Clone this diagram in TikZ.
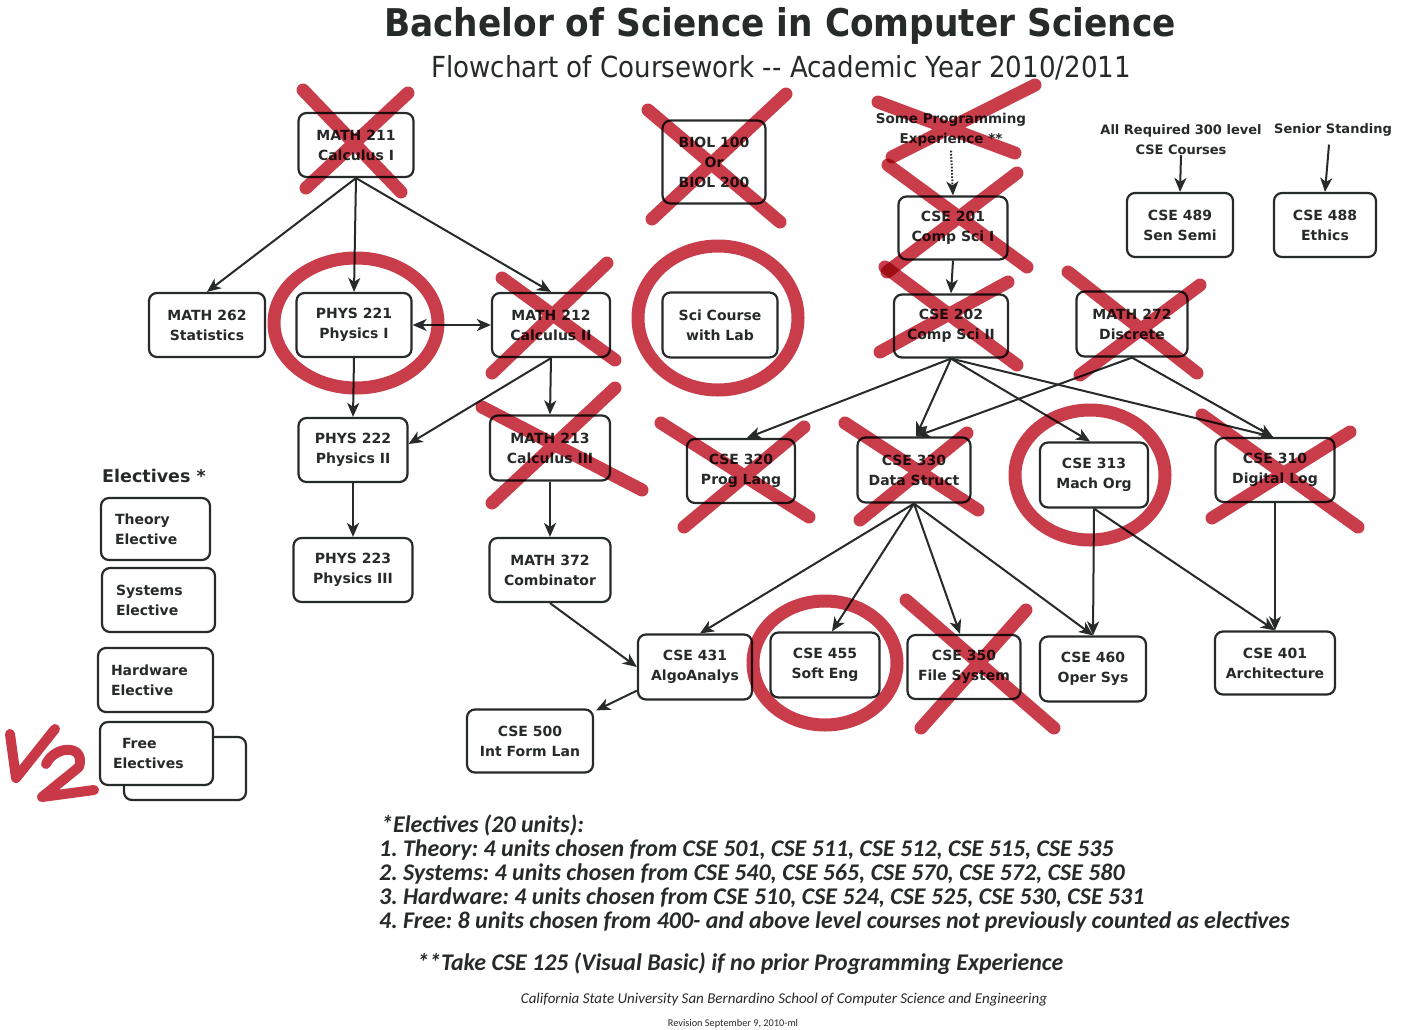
\documentclass[tikz,border=0pt]{standalone}
\usepackage{fontspec}
\setmainfont{DejaVu Sans}
\newfontfamily\titlefont[FakeStretch=0.9]{DejaVu Sans}
\newfontfamily\notefont{Carlito}
\usetikzlibrary{arrows.meta}
\definecolor{ink}{RGB}{38,42,40}
\definecolor{redmark}{RGB}{196,40,56}
\frenchspacing
\tikzset{
  course/.style={draw=ink, line width=2.2pt, rounded corners=8pt, fill=white, align=center,
    font=\bfseries\fontsize{14}{20}\selectfont, text=ink, inner sep=0pt},
  elbox/.style={course, align=left, inner xsep=14pt, inner ysep=0pt},
  tip/.tip={Stealth[length=14pt,width=12pt,inset=4pt]},
  conn/.style={draw=ink, line width=2pt, -tip},
  dotconn/.style={conn, dash pattern=on 1.6pt off 1.6pt},
  marker/.style={draw=redmark, line width=13pt, line cap=round, opacity=0.9, blend mode=multiply},
  ring/.style={draw=redmark, line width=13pt, opacity=0.9, blend mode=multiply},
  handred/.style={draw=redmark, line width=10pt, line cap=round, line join=round, opacity=0.92},
  toplabel/.style={text=ink, font=\bfseries\fontsize{13}{20}\selectfont, align=center, inner sep=0pt},
  note/.style={text=ink, font=\notefont\bfseries\itshape\fontsize{23.9}{28}\selectfont, inner sep=0pt, anchor=base west}
}
\begin{document}
\begin{tikzpicture}[x=1pt,y=-1pt]
\useasboundingbox (0,0) rectangle (1401,1029);
\fill[white] (0,0) rectangle (1401,1029);

% titles
\node[text=ink, font=\titlefont\bfseries\fontsize{38.2}{40}\selectfont, anchor=base, inner sep=0pt] (title) at (780,36) {Bachelor of Science in Computer Science};
\node[text=ink, font=\titlefont\fontsize{29}{30}\selectfont, anchor=base, inner sep=0pt] (subtitle) at (781,77) {Flowchart of Coursework -- Academic Year 2010/2011};

% top labels
\node[toplabel, font=\bfseries\fontsize{13.5}{20}\selectfont] (prog) at (951,130) {Some Programming\\Experience **};
\node[toplabel] (req) at (1181,140) {All Required 300 level\\CSE Courses};
\node[toplabel] (senior) at (1333,130) {Senior Standing};

% course nodes
\node[course, minimum width=115pt, minimum height=64pt] (m211) at (356,145) {MATH 211\\Calculus I};
\node[course, minimum width=103pt, minimum height=83pt] (biol) at (714,162) {BIOL 100\\Or\\BIOL 200};
\node[course, minimum width=116pt, minimum height=64pt] (m262) at (207,325) {MATH 262\\Statistics};
\node[course, minimum width=115pt, minimum height=64pt] (p221) at (354,325) {PHYS 221\\Physics I};
\node[course, minimum width=118pt, minimum height=64pt] (m212) at (551,325) {MATH 212\\Calculus II};
\node[course, minimum width=115pt, minimum height=65pt] (sci) at (720,325) {Sci Course\\with Lab};
\node[course, minimum width=109pt, minimum height=64pt] (p222) at (353,450) {PHYS 222\\Physics II};
\node[course, minimum width=120pt, minimum height=65pt] (m213) at (550,448) {MATH 213\\Calculus III};
\node[course, minimum width=119pt, minimum height=64pt] (p223) at (353,570) {PHYS 223\\Physics III};
\node[course, minimum width=121pt, minimum height=64pt] (m372) at (550,570) {MATH 372\\Combinator};
\node[course, minimum width=109pt, minimum height=63pt] (c201) at (953,228) {CSE 201\\Comp Sci I};
\node[course, minimum width=114pt, minimum height=63pt] (c202) at (951,326) {CSE 202\\Comp Sci II};
\node[course, minimum width=111pt, minimum height=65pt] (m272) at (1132,324) {MATH 272\\Discrete};
\node[course, minimum width=106pt, minimum height=64pt] (c489) at (1180,225) {CSE 489\\Sen Semi};
\node[course, minimum width=102pt, minimum height=64pt] (c488) at (1325,225) {CSE 488\\Ethics};
\node[course, minimum width=108pt, minimum height=64pt] (c320) at (741,471) {CSE 320\\Prog Lang};
\node[course, minimum width=113pt, minimum height=65pt] (c330) at (914,470) {CSE 330\\Data Struct};
\node[course, minimum width=108pt, minimum height=65pt] (c313) at (1094,475) {CSE 313\\Mach Org};
\node[course, minimum width=119pt, minimum height=64pt] (c310) at (1275,470) {CSE 310\\Digital Log};
\node[course, minimum width=114pt, minimum height=65pt] (c431) at (695,667) {CSE 431\\AlgoAnalys};
\node[course, minimum width=109pt, minimum height=65pt] (c455) at (825,665) {CSE 455\\Soft Eng};
\node[course, minimum width=113pt, minimum height=64pt] (c350) at (964,667) {CSE 350\\File System};
\node[course, minimum width=106pt, minimum height=65pt] (c460) at (1093,669) {CSE 460\\Oper Sys};
\node[course, minimum width=120pt, minimum height=63pt] (c401) at (1275,663) {CSE 401\\Architecture};
\node[course, minimum width=126pt, minimum height=63pt] (c500) at (530,741) {CSE 500\\Int Form Lan};

% electives
\node[text=ink, font=\bfseries\fontsize{17.5}{20}\selectfont, anchor=west, inner sep=0pt] (eltitle) at (102,476) {Electives *};
\node[elbox, text width=81pt, minimum height=62pt] (theory) at (155.5,529) {Theory\\Elective};
\node[elbox, text width=85pt, minimum height=64pt] (systems) at (158.5,600) {Systems\\Elective};
\node[elbox, inner xsep=13pt, text width=89pt, minimum height=64pt] (hardware) at (155.5,680) {Hardware\\Elective};
\node[course, minimum width=122pt, minimum height=63pt] (freeshadow) at (185,768.5) {};
\node[elbox, inner xsep=13pt, text width=87pt, minimum height=63pt] (free) at (156.5,753.5) {\hspace{9pt}Free\\Electives};

% connectors
\draw[conn] (m211.south) -- (m262.north);
\draw[conn] (m211.south) -- (p221.north);
\draw[conn] (m211.south) -- (m212.north);
\draw[conn, tip-tip] (p221.east) -- (m212.west);
\draw[conn] (p221.south) -- (p222.north);
\draw[conn] (m212.south) -- ([yshift=6pt]p222.east);
\draw[conn] (m212.south) -- (m213.north);
\draw[conn] (p222.south) -- (p223.north);
\draw[conn] (m213.south) -- (m372.north);
\draw[conn] (m372.south) -- (c431.west);
\draw[conn] ([yshift=10pt]c431.south west) -- ([xshift=2pt,yshift=-2pt]c500.north east);
\draw[dotconn] ([yshift=-4pt]prog.south) -- (c201.north);
\draw[conn] (c201.south) -- (c202.north);
\draw[conn] (c202.south) -- ([xshift=6pt]c320.north);
\draw[conn] (c202.south) -- ([xshift=2pt]c330.north);
\draw[conn] (m272.south) -- ([xshift=2pt]c330.north);
\draw[conn] (c202.south) -- ([xshift=-4pt]c313.north);
\draw[conn] (c202.south) -- ([xshift=-2pt]c310.north);
\draw[conn] (m272.south) -- ([xshift=-2pt]c310.north);
\draw[conn] (c330.south) -- ([xshift=5pt]c431.north);
\draw[conn] (c330.south) -- ([xshift=7pt]c455.north);
\draw[conn] (c330.south) -- ([xshift=-4pt]c350.north);
\draw[conn] (c330.south) -- (c460.north);
\draw[conn] (c313.south) -- (c460.north);
\draw[conn] (c313.south) -- (c401.north);
\draw[conn] (c310.south) -- (c401.north);
\draw[conn] (req.south) -- (c489.north);
\draw[conn] ([xshift=-4pt,yshift=-8pt]senior.south) -- (c488.north);

% notes
\node[note] (n0) at (381,832) {*Electives (20 units):};
\node[note] (n1) at (379,856) {1. Theory: 4 units chosen from CSE 501, CSE 511, CSE 512, CSE 515, CSE 535};
\node[note] (n2) at (379,880) {2. Systems: 4 units chosen from CSE 540, CSE 565, CSE 570, CSE 572, CSE 580};
\node[note] (n3) at (379,904) {3. Hardware: 4 units chosen from CSE 510, CSE 524, CSE 525, CSE 530, CSE 531};
\node[note] (n4) at (379,928) {4. Free: 8 units chosen from 400- and above level courses not previously counted as electives};
\node[note] (n5) at (417,970) {**Take CSE 125 (Visual Basic) if no prior Programming Experience};
\node[text=ink, font=\notefont\itshape\fontsize{15}{16}\selectfont, anchor=base, inner sep=0pt] (footer) at (784,1003) {California State University San Bernardino School of Computer Science and Engineering};
\node[text=ink, font=\notefont\fontsize{10.3}{12}\selectfont, anchor=base, inner sep=0pt] (revision) at (733,1026) {Revision September 9, 2010-ml};

% red circles
\draw[ring] (356,323) ellipse [x radius=82pt, y radius=65pt];
\draw[ring] (718,318) ellipse [x radius=80pt, y radius=72pt];
\draw[ring] (1090,475) ellipse [x radius=75pt, y radius=65pt];
\draw[ring] (825,663) ellipse [x radius=72pt, y radius=62pt];

% red crosses (each X one path)
\draw[marker] (303,90) -- (401,192) (408,93) -- (306,188);
\draw[marker] (648,110) -- (780,222) (786,94) -- (652,219);
\draw[marker] (502,278) -- (615,360) (607,263) -- (492,373);
\draw[marker] (482,407) -- (642,490) (615,388) -- (492,503);
\draw[marker] (878,102) -- (1015,153) (1035,85) -- (892,157);
\draw[marker] (888,165) -- (1027,267) (1017,173) -- (887,272);
\draw[marker] (885,267) -- (1017,365) (1008,282) -- (880,352);
\draw[marker] (1068,272) -- (1197,373) (1200,285) -- (1080,375);
\draw[marker] (661,423) -- (809,517) (804,427) -- (684,527);
\draw[marker] (845,423) -- (978,510) (967,433) -- (860,520);
\draw[marker] (1202,415) -- (1358,527) (1350,432) -- (1212,518);
\draw[marker] (906,600) -- (1054,728) (1026,610) -- (921,728);

% handwritten 1/2
\draw[handred] (10,734) -- (16,778) -- (55,729);
\draw[handred] (46,764) .. controls (55,745) and (86,744) .. (79,767) -- (42,797) -- (94,790);
\end{tikzpicture}
\end{document}
